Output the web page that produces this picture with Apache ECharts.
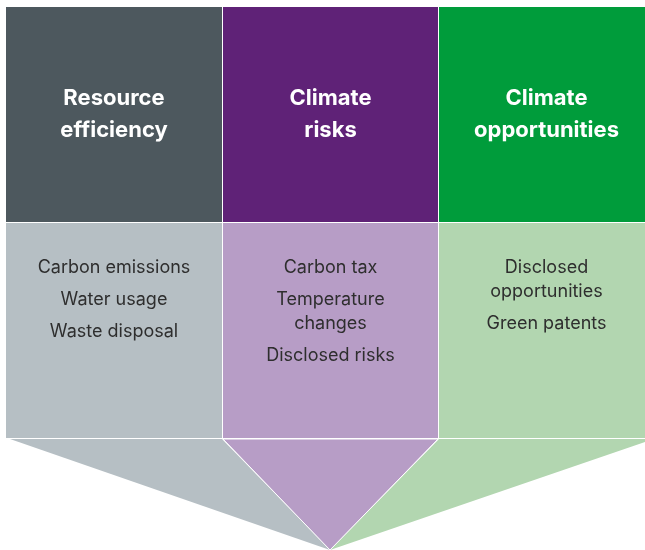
<!DOCTYPE html>
<html>
<head>
<meta charset="utf-8">
<script src="https://cdn.jsdelivr.net/npm/echarts@6/dist/echarts.min.js"></script>
<style>
  html, body { margin: 0; padding: 0; background: #fff; }
  #chart { width: 645px; height: 550px; }
</style>
</head>
<body>
<div id="chart"></div>
<script>
// ============ Data ============
const pillars = ['Resource\nefficiency', 'Climate\nrisks', 'Climate\nopportunities']
const pillarItems = [
  ['Carbon emissions', 'Water usage', 'Waste disposal'],
  ['Carbon tax', 'Temperature\nchanges', 'Disclosed risks'],
  ['Disclosed\nopportunities', 'Green patents'],
]
const headerColors = ['#4d585e', '#5f2277', '#009c3b']
const bodyColors = ['#b6bfc4', '#b79dc6', '#b2d6b0']

// ============ Layout (in axis units = px) ============
const colEdges = [6, 222, 438, 654]
const headerTop = 7
const bodyTop = 223
const funnelTop = 439
const tip = [330, 550]

const chart = echarts.init(document.getElementById('chart'))

function renderPanel(params, api) {
  const i = api.value(0)
  const x0 = colEdges[i] + (i > 0 ? 1 : 0)
  const x1 = colEdges[i + 1]
  const p0 = api.coord([x0, headerTop])
  const p1 = api.coord([x1, bodyTop - 1])
  const q0 = api.coord([x0, bodyTop])
  const q1 = api.coord([x1, funnelTop - 1])
  const cx = api.coord([(x0 + x1) / 2, 0])[0]
  const children = [
    { type: 'rect', shape: { x: p0[0], y: p0[1], width: p1[0] - p0[0], height: p1[1] - p0[1] }, style: { fill: headerColors[i] } },
    { type: 'rect', shape: { x: q0[0], y: q0[1], width: q1[0] - q0[0], height: q1[1] - q0[1] }, style: { fill: bodyColors[i] } },
    {
      type: 'text',
      x: cx,
      y: api.coord([0, (headerTop + bodyTop) / 2 - 1])[1],
      style: {
        text: pillars[i],
        fill: '#fff',
        font: 'bold 22px Inter, "Noto Sans", sans-serif',
        lineHeight: 32,
        align: 'center',
        verticalAlign: 'middle',
      },
    },
  ]
  let y = 256
  pillarItems[i].forEach(item => {
    const lines = item.split('\n').length
    children.push({
      type: 'text',
      x: cx,
      y: api.coord([0, y])[1],
      style: {
        text: item,
        fill: '#2e2e2e',
        font: '18px Inter, "Noto Sans", sans-serif',
        lineHeight: 24,
        align: 'center',
        verticalAlign: 'top',
      },
    })
    y += lines * 24 + 8
  })
  return { type: 'group', children }
}

function renderFunnel(params, api) {
  const i = api.value(0)
  const left = i === 0 ? colEdges[0] + 4 : colEdges[i] + 1
  const pts = [
    api.coord([left, funnelTop]),
    api.coord([colEdges[i + 1], funnelTop]),
    api.coord(tip),
  ]
  return {
    type: 'polygon',
    shape: { points: pts },
    style: { fill: bodyColors[i], stroke: i === 1 ? '#fff' : null, lineWidth: 1 },
  }
}

chart.setOption({
  animation: false,
  grid: { left: 0, right: 0, top: 0, bottom: 0 },
  xAxis: { type: 'value', min: 0, max: 645, show: false },
  yAxis: { type: 'value', min: 0, max: 550, inverse: true, show: false },
  series: [
    {
      type: 'custom',
      clip: true,
      renderItem: renderFunnel,
      data: [[0], [2], [1]],
    },
    {
      type: 'custom',
      clip: true,
      renderItem: renderPanel,
      data: pillars.map((_, i) => [i]),
    },
  ],
})
</script>
</body>
</html>
